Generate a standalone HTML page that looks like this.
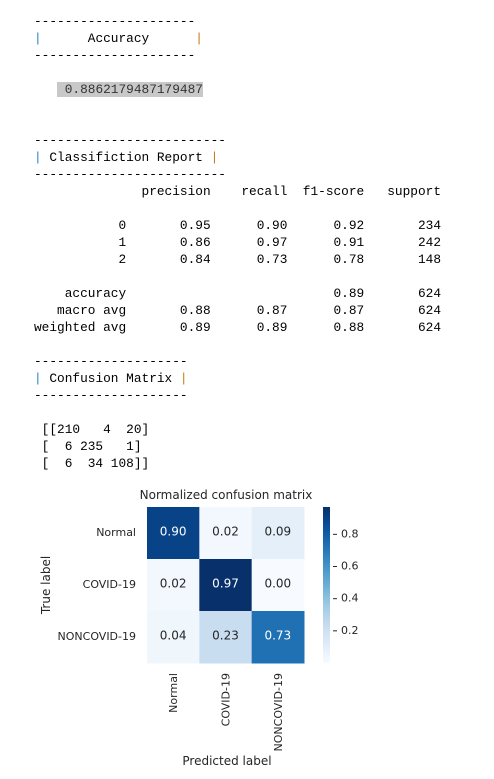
<!DOCTYPE html>
<html><head><meta charset="utf-8">
<style>
body{margin:0;background:#fff;width:494px;height:779px;overflow:hidden;position:relative}
pre{position:absolute;left:34px;top:12.5px;margin:0;font-family:"Liberation Mono",monospace;font-size:12.8px;line-height:17px;color:#000}
.b{color:#2a7fc4}.o{color:#c77a1a}
.hl{background:#c8c8c8;color:#333}
svg{position:absolute;left:0;top:0}
</style></head><body>
<pre>---------------------
<span class="b">|</span>      Accuracy      <span class="o">|</span>
---------------------

   <span class="hl"> 0.8862179487179487</span>


-------------------------
<span class="b">|</span> Classifiction Report <span class="o">|</span>
-------------------------
              precision    recall  f1-score   support

           0       0.95      0.90      0.92       234
           1       0.86      0.97      0.91       242
           2       0.84      0.73      0.78       148

    accuracy                           0.89       624
   macro avg       0.88      0.87      0.87       624
weighted avg       0.89      0.89      0.88       624

--------------------
<span class="b">|</span> Confusion Matrix <span class="o">|</span>
--------------------

 [[210   4  20]
 [  6 235   1]
 [  6  34 108]]</pre>
<svg id="chart" width="494" height="779" font-family="DejaVu Sans, sans-serif"></svg>
<script>
const classes = ["Normal","COVID-19","NONCOVID-19"];
const values = [[0.90,0.02,0.09],[0.02,0.97,0.00],[0.04,0.23,0.73]];
const cbarTicks = [0.2,0.4,0.6,0.8];
const NS="http://www.w3.org/2000/svg";
const svg=document.getElementById('chart');
function mk(t,a,txt){const e=document.createElementNS(NS,t);for(const k in a)e.setAttribute(k,a[k]);if(txt!==undefined)e.textContent=txt;svg.appendChild(e);return e;}
const X0=147,Y0=507,W=157,H=156;
const cw=W/classes.length,ch=H/classes.length;
const flat=values.flat();const vmin=Math.min(...flat),vmax=Math.max(...flat);
const stops=["#f7fbff","#deebf7","#c6dbef","#9ecae1","#6baed6","#4292c6","#2171b5","#08519c","#08306b"];
function hex(h){return [1,3,5].map(i=>parseInt(h.substr(i,2),16));}
function cmap(t){t=Math.max(0,Math.min(1,t));const p=t*(stops.length-1);const i=Math.min(Math.floor(p),stops.length-2);const f=p-i;const a=hex(stops[i]),b=hex(stops[i+1]);return 'rgb('+a.map((v,k)=>Math.round(v+(b[k]-v)*f)).join(',')+')';}
function norm(v){return (v-vmin)/(vmax-vmin);}
values.forEach((row,r)=>row.forEach((v,c)=>{
  const rect=mk('rect',{x:X0+c*cw,y:Y0+r*ch,width:cw+0.5,height:ch+0.5,fill:cmap(norm(v))});
  
  
  const t=mk('text',{x:X0+c*cw+cw/2,y:Y0+r*ch+ch/2-1,'text-anchor':'middle','dominant-baseline':'middle','font-size':'12',fill:norm(v)>0.6?'#fff':'#262626'},v.toFixed(2));
  
  
}));
classes.forEach((c,i)=>{
  const yl=mk('text',{x:X0-11,y:Y0+i*ch+ch/2,'text-anchor':'end','dominant-baseline':'middle','font-size':'11',fill:'#262626'},c);
  
  
  const cx=X0+i*cw+cw/2+4;
  const xl=mk('text',{x:0,y:0,transform:'translate('+cx+',673) rotate(-90)','text-anchor':'end','font-size':'11',fill:'#262626'},c);
  
  
});
const ti=mk('text',{x:226,y:499,'text-anchor':'middle','font-size':'12',fill:'#262626'},'Normalized confusion matrix');

const yt=mk('text',{x:0,y:0,transform:'translate(50,585) rotate(-90)','text-anchor':'middle','font-size':'12',fill:'#262626'},'True label');

const xt=mk('text',{x:227,y:765,'text-anchor':'middle','font-size':'12',fill:'#262626'},'Predicted label');

// colorbar
const CB={x:323,y:507,w:7,h:156};
const defs=mk('defs',{});
const lg=document.createElementNS(NS,'linearGradient');lg.setAttribute('id','cg');lg.setAttribute('x1','0');lg.setAttribute('y1','1');lg.setAttribute('x2','0');lg.setAttribute('y2','0');defs.appendChild(lg);
for(let i=0;i<=20;i++){const s=document.createElementNS(NS,'stop');s.setAttribute('offset',i/20);s.setAttribute('stop-color',cmap(i/20));lg.appendChild(s);}
const cb=mk('rect',{x:CB.x,y:CB.y,width:CB.w,height:CB.h,fill:'url(#cg)'});

function cby(v){return CB.y+CB.h-norm(v)*CB.h;}
cbarTicks.forEach(v=>{
  const y=cby(v);
  mk('line',{x1:CB.x+CB.w+3,x2:CB.x+CB.w+7,y1:y,y2:y,stroke:'#262626','stroke-width':'1'});
  const t=mk('text',{x:CB.x+CB.w+11,y:y,'dominant-baseline':'middle','font-size':'11',fill:'#262626'},v.toFixed(1));
  
  
});
</script>
</body></html>
